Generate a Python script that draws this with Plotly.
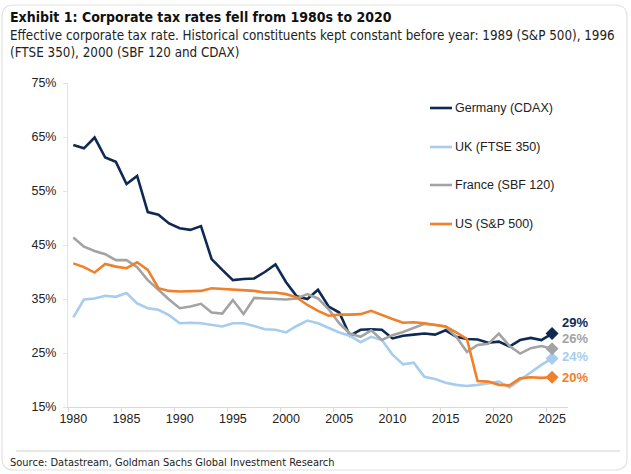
import plotly.graph_objects as go

years = list(range(1980, 2026))

germany = [63.5, 62.9, 64.9, 61.2, 60.4, 56.3, 57.8, 51.1, 50.6, 49.0,
           48.1, 47.8, 48.5, 42.4, 40.4, 38.5, 38.7, 38.8, 40.0, 41.4,
           38.1, 35.5, 35.0, 36.7, 33.6, 32.5, 28.2, 29.3, 29.4, 29.3,
           27.7, 28.2, 28.4, 28.6, 28.4, 29.2, 28.0, 27.6, 27.5, 26.9,
           27.1, 26.2, 27.4, 27.8, 27.4, 28.6]
uk = [31.6, 34.9, 35.1, 35.6, 35.4, 36.1, 34.2, 33.3, 33.0, 32.0,
      30.5, 30.6, 30.5, 30.2, 29.9, 30.5, 30.5, 30.0, 29.4, 29.3,
      28.8, 30.0, 31.0, 30.5, 29.6, 28.8, 28.2, 27.0, 28.0, 27.4,
      24.7, 22.9, 23.2, 20.6, 20.2, 19.5, 19.1, 18.9, 19.1, 19.4,
      19.7, 18.6, 20.0, 21.5, 22.8, 24.0]
france = [46.4, 44.7, 43.9, 43.3, 42.2, 42.2, 40.9, 38.5, 36.7, 34.9,
          33.3, 33.6, 34.1, 32.5, 32.3, 34.8, 32.2, 35.2, 35.1, 35.0,
          34.9, 35.1, 35.9, 35.1, 33.1, 30.5, 28.6, 28.0, 29.2, 27.4,
          28.3, 28.9, 29.6, 30.4, 30.2, 29.9, 28.0, 25.2, 26.5, 26.7,
          28.6, 26.3, 24.9, 25.9, 26.3, 25.8]
us = [41.6, 40.9, 39.9, 41.5, 41.0, 40.7, 41.8, 40.4, 37.0, 36.5,
      36.4, 36.5, 36.5, 37.0, 36.9, 36.8, 36.7, 36.5, 36.2, 36.2,
      35.9, 35.3, 33.9, 32.8, 31.9, 32.1, 32.1, 32.2, 32.8, 32.0,
      31.3, 30.6, 30.7, 30.5, 30.2, 29.9, 28.8, 27.6, 19.8, 19.7,
      19.1, 19.0, 20.3, 20.5, 20.4, 20.5]

series_names = ["Germany (CDAX)", "UK (FTSE 350)", "France (SBF 120)", "US (S&P 500)"]
series_values = [germany, uk, france, us]
end_labels = ["29%", "24%", "26%", "20%"]

x_ticks = list(range(1980, 2026, 5))
y_ticks = list(range(15, 76, 10))
y_tick_labels = ["%d%%" % v for v in y_ticks]

colors = ["#0f2a52", "#a6cdee", "#a3a3a3", "#f0802a"]
label_offset = [2.1, 0.3, 1.8, 0.0]

W, H = 631, 474
L, R, T, B = 68, 63, 83, 67
PW, PH = W - L - R, H - T - B


def px(x):
    return (x - L) / PW


def py(y):
    return (H - B - y) / PH


fig = go.Figure()
for name, vals, col in zip(series_names, series_values, colors):
    fig.add_trace(go.Scatter(x=years, y=vals, mode="lines", name=name,
                             line=dict(color=col, width=2.6), showlegend=False))
for name, vals, col, lab, off in zip(series_names, series_values, colors, end_labels, label_offset):
    fig.add_trace(go.Scatter(x=[years[-1]], y=[vals[-1]], mode="markers",
                             marker=dict(symbol="diamond", size=10, color=col),
                             showlegend=False, hoverinfo="skip"))
    fig.add_annotation(x=years[-1], y=vals[-1] + off, text="<b>%s</b>" % lab,
                       xref="x", yref="y", showarrow=False, xanchor="left",
                       xshift=8, font=dict(family="Liberation Sans", size=13, color=col))

# legend (manual)
leg_y = [108, 147, 185, 224]
shapes = []
for name, col, ly in zip(series_names, colors, leg_y):
    shapes.append(dict(type="line", xref="paper", yref="paper", x0=px(430), x1=px(452),
                       y0=py(ly), y1=py(ly), line=dict(color=col, width=2.6)))
    fig.add_annotation(x=px(453), y=py(ly), xref="paper", yref="paper", text=name,
                       showarrow=False, xanchor="left", yanchor="middle",
                       font=dict(family="Liberation Sans", size=12.5, color="#222222"))

# card border with rounded corners
x0, x1, y0, y1, r = 2, 627, 5, 470, 12
path = (f"M {px(x0 + r)},{py(y0)} L {px(x1 - r)},{py(y0)} Q {px(x1)},{py(y0)} {px(x1)},{py(y0 + r)} "
        f"L {px(x1)},{py(y1 - r)} Q {px(x1)},{py(y1)} {px(x1 - r)},{py(y1)} "
        f"L {px(x0 + r)},{py(y1)} Q {px(x0)},{py(y1)} {px(x0)},{py(y1 - r)} "
        f"L {px(x0)},{py(y0 + r)} Q {px(x0)},{py(y0)} {px(x0 + r)},{py(y0)} Z")
shapes.append(dict(type="path", xref="paper", yref="paper", path=path,
                   line=dict(color="#e2e2e2", width=1.2), layer="below"))
# separator above source
shapes.append(dict(type="line", xref="paper", yref="paper", x0=px(16), x1=px(620),
                   y0=py(451), y1=py(451), line=dict(color="#cfcfcf", width=1)))

fig.add_annotation(x=px(8), y=py(17), xref="paper", yref="paper", showarrow=False,
                   xanchor="left", yanchor="middle",
                   text="<b>Exhibit 1: Corporate tax rates fell from 1980s to 2020</b>",
                   font=dict(family="DejaVu Sans Condensed", size=14, color="#111111"))
fig.add_annotation(x=px(8), y=py(44), xref="paper", yref="paper", showarrow=False,
                   xanchor="left", yanchor="middle", align="left",
                   text="Effective corporate tax rate. Historical constituents kept constant before year: 1989 (S&P 500), 1996<br>(FTSE 350), 2000 (SBF 120 and CDAX)",
                   font=dict(family="DejaVu Sans Condensed", size=13.3, color="#222222"))
fig.add_annotation(x=px(8), y=py(463), xref="paper", yref="paper", showarrow=False,
                   xanchor="left", yanchor="middle",
                   text="Source: Datastream, Goldman Sachs Global Investment Research",
                   font=dict(family="DejaVu Sans Condensed", size=11, color="#222222"))

fig.update_layout(
    width=W, height=H, margin=dict(l=L, r=R, t=T, b=B),
    paper_bgcolor="white", plot_bgcolor="white", shapes=shapes,
    font=dict(family="Liberation Sans, Arial", size=12, color="#222222"),
)
fig.update_xaxes(range=[1979.5, 2026.5], tickvals=x_ticks, ticks="", showgrid=False,
                 showline=True, linecolor="#d9d9d9", linewidth=1, zeroline=False,
                 tickfont=dict(family="Liberation Sans", size=12.5),
                 minor=dict(tickvals=[v - 0.5 for v in x_ticks], ticks="outside",
                            ticklen=4, tickcolor="#d9d9d9", showgrid=False))
fig.update_yaxes(range=[15, 75], tickvals=y_ticks, ticktext=y_tick_labels, showgrid=False,
                 showline=True, linecolor="#e3e3e3", linewidth=1, zeroline=False,
                 ticks="outside", ticklen=4, tickcolor="#e3e3e3",
                 tickfont=dict(family="Liberation Sans", size=12.5), ticklabelstandoff=4)

fig.write_html("out.html")
